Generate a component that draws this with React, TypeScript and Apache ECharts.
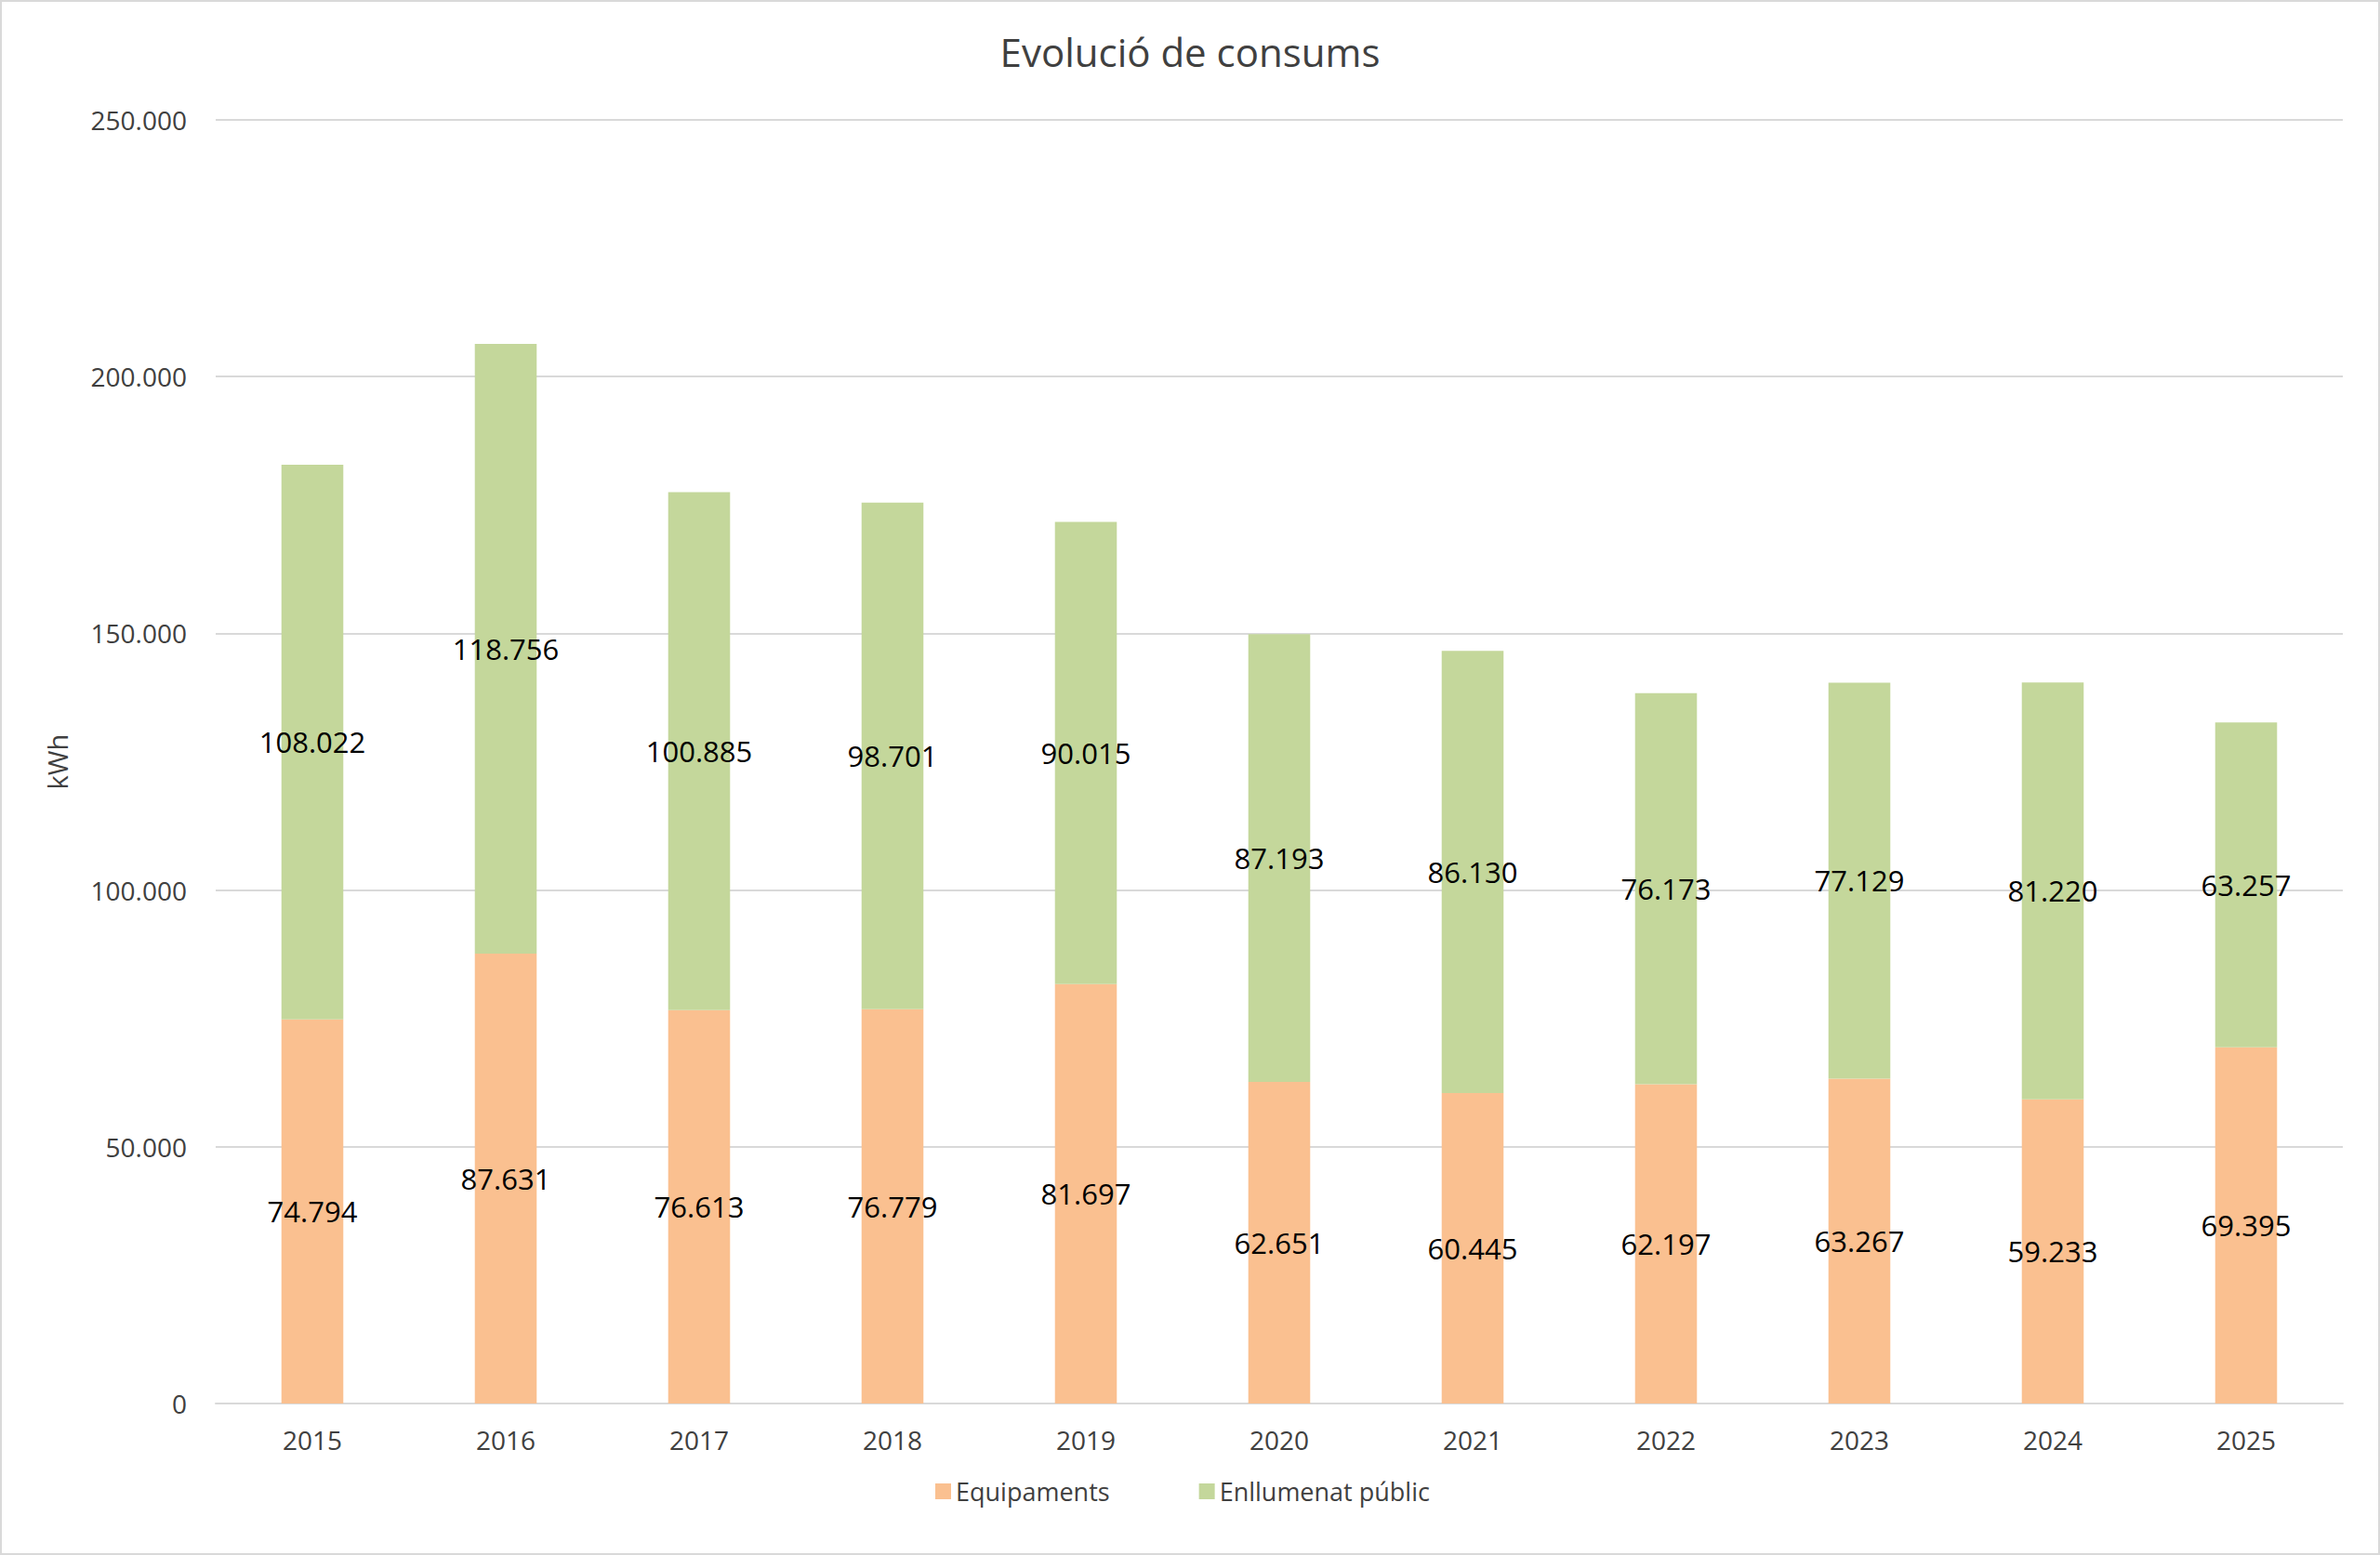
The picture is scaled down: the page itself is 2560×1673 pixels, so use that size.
import React, { useEffect, useRef } from "react";
import * as echarts from "echarts";

const years = ["2015", "2016", "2017", "2018", "2019", "2020", "2021", "2022", "2023", "2024", "2025"];
const equipaments = [74794, 87631, 76613, 76779, 81697, 62651, 60445, 62197, 63267, 59233, 69395];
const enllumenat = [108022, 118756, 100885, 98701, 90015, 87193, 86130, 76173, 77129, 81220, 63257];
const seriesNames = ["Equipaments", "Enllumenat públic"];
const titleText = "Evolució de consums";
const yAxisName = "kWh";

const FONT = "'Open Sans', 'Noto Sans', sans-serif";
const TEXT_GREY = "#404040";

function fmt(v: number): string {
  return String(Math.round(v)).replace(/\B(?=(\d{3})+(?!\d))/g, ".");
}

export default function App() {
  const ref = useRef<HTMLDivElement>(null);
  useEffect(() => {
    document.body.style.margin = "0";
    if (!ref.current) return;
    const chart = echarts.init(ref.current, null, { renderer: "svg" });
    chart.setOption({
      animation: false,
      backgroundColor: "#ffffff",
      textStyle: { fontFamily: FONT },
      title: {
        text: titleText,
        left: "center",
        top: 29,
        textStyle: { fontFamily: FONT, fontSize: 42, fontWeight: "normal", color: TEXT_GREY },
      },
      legend: {
        data: seriesNames,
        left: 1001,
        top: 1586,
        icon: "rect",
        itemWidth: 17,
        itemHeight: 17,
        itemGap: 96,
        textStyle: { fontFamily: FONT, fontSize: 27, color: TEXT_GREY },
      },
      grid: { left: 232, right: 40, top: 129, bottom: 163, containLabel: false, outerBoundsMode: "none" },
      xAxis: {
        type: "category",
        data: years,
        axisLine: { show: true, lineStyle: { color: "#D9D9D9", width: 2 } },
        axisTick: { show: false },
        axisLabel: { fontFamily: FONT, fontSize: 28, color: TEXT_GREY, margin: 25, lineHeight: 28 },
      },
      yAxis: {
        type: "value",
        min: 0,
        max: 250000,
        interval: 50000,
        name: yAxisName,
        nameLocation: "middle",
        nameGap: 156,
        nameRotate: 90,
        nameTextStyle: { fontFamily: FONT, fontSize: 29, color: TEXT_GREY },
        axisLine: { show: false },
        axisTick: { show: false },
        splitLine: { lineStyle: { color: "#D9D9D9", width: 2 } },
        axisLabel: { fontFamily: FONT, fontSize: 28, color: TEXT_GREY, margin: 31, formatter: (v: number) => fmt(v) },
      },
      series: [
        {
          name: seriesNames[0],
          type: "bar",
          stack: "total",
          data: equipaments,
          barWidth: "32%",
          itemStyle: { color: "#FAC090" },
          label: {
            show: true,
            position: "inside",
            fontFamily: FONT,
            fontSize: 31,
            color: "#000000",
            formatter: (p: any) => fmt(p.value),
          },
        },
        {
          name: seriesNames[1],
          type: "bar",
          stack: "total",
          data: enllumenat,
          barWidth: "32%",
          itemStyle: { color: "#C4D79B" },
          label: {
            show: true,
            position: "inside",
            fontFamily: FONT,
            fontSize: 31,
            color: "#000000",
            formatter: (p: any) => fmt(p.value),
          },
        },
      ],
      graphic: [
        {
          type: "rect",
          shape: { x: 1, y: 1, width: 2558, height: 1671 },
          style: { fill: "none", stroke: "#D9D9D9", lineWidth: 2 },
          silent: true,
        },
      ],
    });
    return () => chart.dispose();
  }, []);
  return <div ref={ref} style={{ width: 2560, height: 1673 }} />;
}
